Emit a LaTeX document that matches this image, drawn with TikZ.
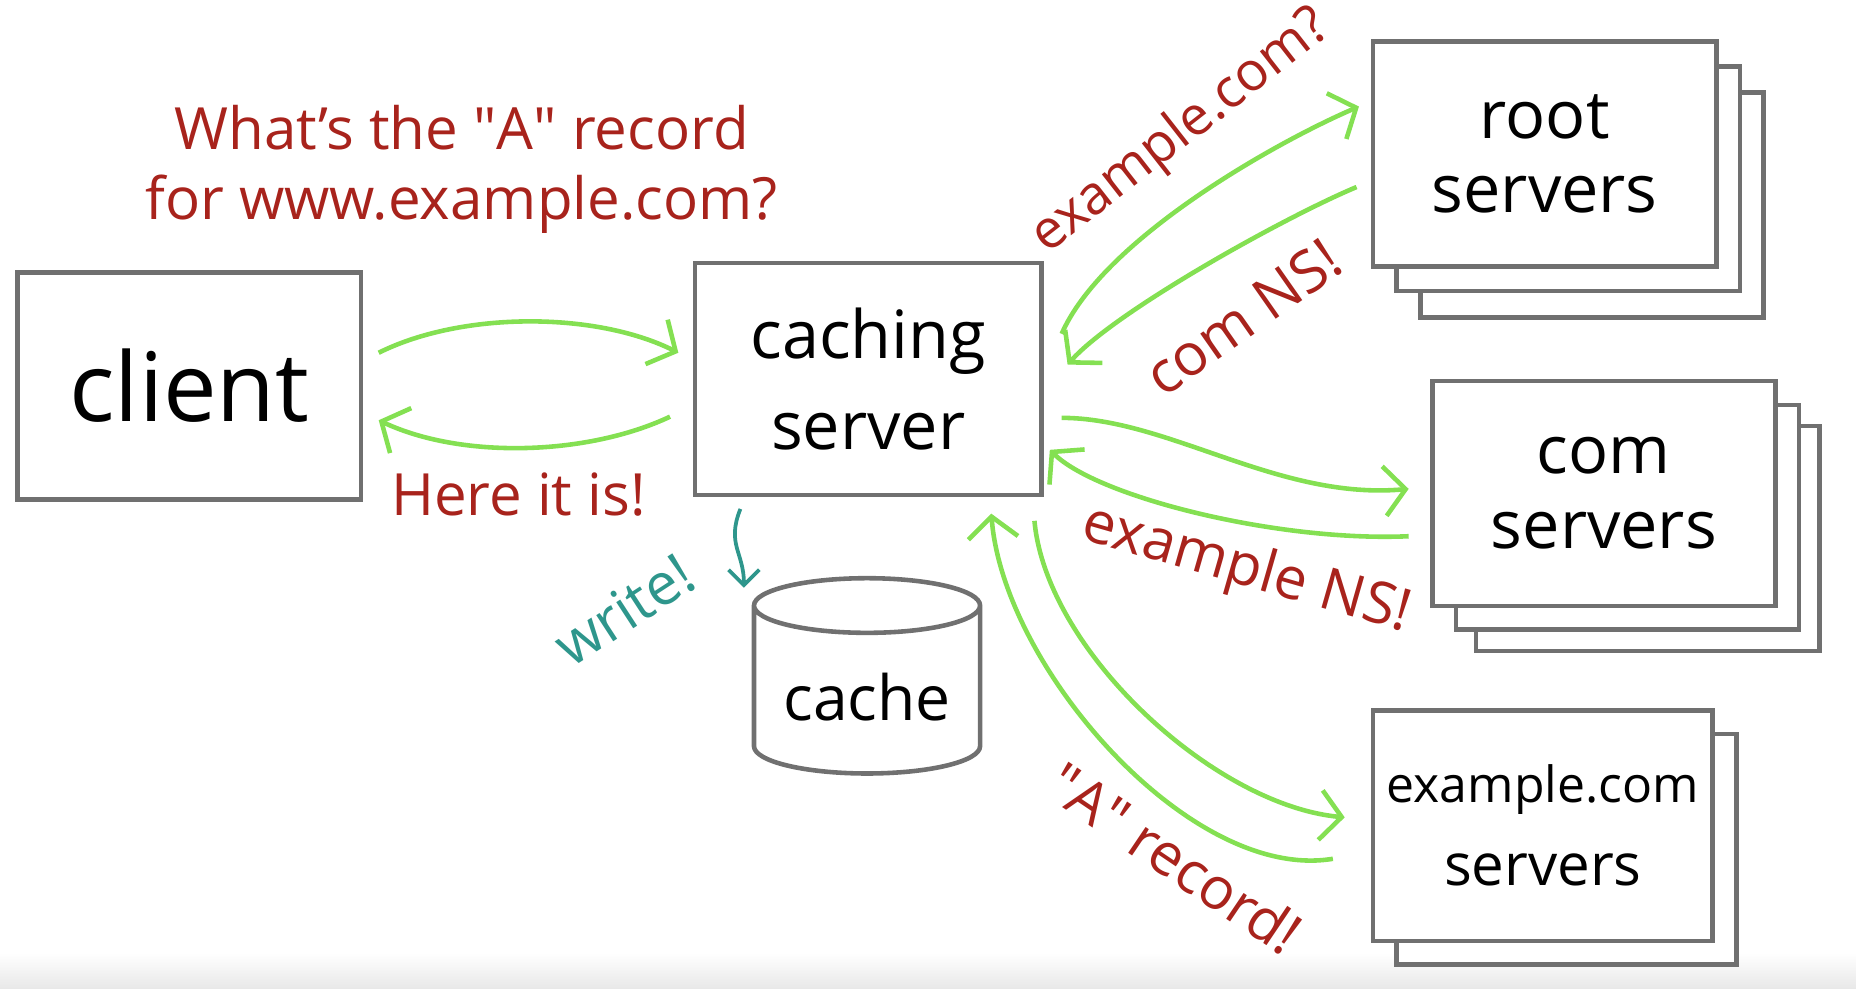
\documentclass[tikz,border=0pt]{standalone}
\usepackage{fontspec}
\setmainfont{Open Sans}
\usetikzlibrary{shapes.geometric,shadows,arrows.meta}
\definecolor{boxgray}{HTML}{707070}
\definecolor{msggreen}{HTML}{84E052}
\definecolor{notered}{HTML}{A8231C}
\definecolor{noteteal}{HTML}{2E968C}

\begin{document}
\begin{tikzpicture}[x=0.1mm, y=-0.1mm,
  every node/.style={font=\fontsize{14}{17}\selectfont},
  srvbox/.style={draw=boxgray, line width=1.1pt, fill=white, align=center, inner sep=0pt},
  msg/.style={draw=msggreen, line width=1.1pt, -{Straight Barb[length=1.8mm, width=4.2mm]}},
  note/.style={text=notered}]
\useasboundingbox (0,0) rectangle (1568,835);
\shade[top color=white, bottom color=black!9] (0,805) rectangle (1568,835);

% the boxes
\node[srvbox, minimum width=29mm, minimum height=19.2mm, font=\fontsize{23}{26}\selectfont] (client) at (160,326) {client};
\node[srvbox, minimum width=29.3mm, minimum height=19.6mm, font=\fontsize{16}{22}\selectfont] (cs) at (733.5,320) {caching\\server};
\node[cylinder, shape border rotate=90, aspect=0.28, draw=boxgray, line width=1.1pt, minimum width=19.1mm, minimum height=16.5mm, font=\fontsize{15}{17}\selectfont] (cache) at (732.5,589) {cache};
\node[srvbox, minimum width=29mm, minimum height=19mm, font=\fontsize{16}{18}\selectfont,
  copy shadow={shadow xshift=4mm, shadow yshift=-4.3mm, draw=boxgray, line width=1.1pt, fill=white},
  copy shadow={shadow xshift=2mm, shadow yshift=-2.1mm, draw=boxgray, line width=1.1pt, fill=white}] (root) at (1305,130) {root\\servers};
\node[srvbox, minimum width=29mm, minimum height=19mm, font=\fontsize{16}{18}\selectfont,
  copy shadow={shadow xshift=3.7mm, shadow yshift=-3.8mm, draw=boxgray, line width=1.1pt, fill=white},
  copy shadow={shadow xshift=2mm, shadow yshift=-2mm, draw=boxgray, line width=1.1pt, fill=white}] (com) at (1355,417) {com\\servers};
\node[srvbox, minimum width=28.7mm, minimum height=19.5mm, font=\fontsize{12}{20}\selectfont,
  copy shadow={shadow xshift=2mm, shadow yshift=-2mm, draw=boxgray, line width=1.1pt, fill=white}] (ex) at (1303.5,697.5) {example.com\\{\fontsize{14}{17}\selectfont servers}};

% the notes
\node[note, align=center] (question) at (390,143) {What's the \textquotedbl A\textquotedbl{} record\\for www.example.com?};
\node[note] (answer) at (438,418) {Here it is!};
\node[text=noteteal, rotate=33] (writenote) at (527,515) {write!};
\node[note, rotate=38, font=\fontsize{13}{16}\selectfont] (rootq) at (998,112) {example.com?};
\node[note, rotate=35] (roota) at (1050,268) {com NS!};
\node[note, rotate=-16] (coma) at (1053,482) {example NS!};
\node[note, rotate=-34] (exa) at (993,725) {\textquotedbl A\textquotedbl{} record!};

% the messages
\draw[msg] ([shift={(13,-28)}]client.east) .. controls +(70,-35) and +(-70,-35) .. ([shift={(-12,-22)}]cs.west);
\draw[msg] ([shift={(-19,32)}]cs.west) .. controls +(-70,33) and +(70,33) .. ([shift={(13,29)}]client.east);
\draw[msg] ([shift={(15,-38)}]cs.east) .. controls +(35,-80) and +(-70,30) .. ([shift={(-10,-40)}]root.west);
\draw[msg] ([shift={(-12,28)}]root.west) .. controls +(-60,25) and +(40,-45) .. ([shift={(20,-12)}]cs.east);
\draw[msg] ([shift={(15,33)}]cs.east) .. controls +(90,0) and +(-110,10) .. ([shift={(-18,-4)}]com.west);
\draw[msg] ([shift={(-18,36)}]com.west) .. controls +(-110,5) and +(40,40) .. ([shift={(5,60)}]cs.east);
\draw[msg] ([shift={(-8,120)}]cs.east) .. controls +(10,110) and +(-110,-10) .. ([shift={(-22,-7)}]ex.west);
\draw[msg] ([shift={(-32,28)}]ex.west) .. controls +(-120,20) and +(10,130) .. ([shift={(104,14)}]cs.south);
\draw[draw=noteteal, line width=0.9pt, -{Straight Barb[length=1.3mm, width=2.6mm]}] ([shift={(-108,10)}]cs.south) .. controls +(-12,30) and +(0,-30) .. ([shift={(-104,10)}]cache.north);
\end{tikzpicture}
\end{document}
